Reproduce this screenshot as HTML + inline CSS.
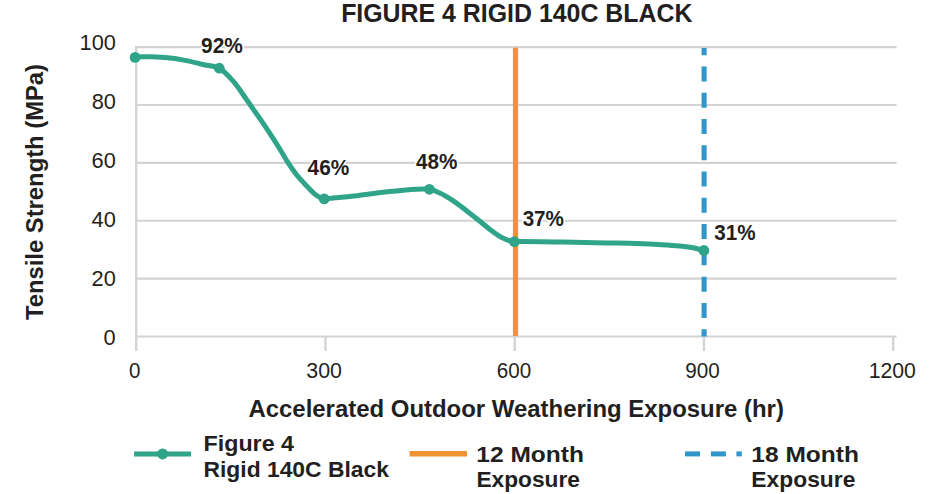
<!DOCTYPE html>
<html><head><meta charset="utf-8"><style>
html,body{margin:0;padding:0;background:#fff;width:940px;height:494px;overflow:hidden}
svg{display:block}
text{font-family:"Liberation Sans",sans-serif;fill:#231f20}
</style></head><body>
<svg width="940" height="494" viewBox="0 0 940 494">
<line x1="135" y1="47.10" x2="896.60" y2="47.10" stroke="#d3d3d3" stroke-width="2.2"/>
<line x1="135" y1="104.98" x2="896.60" y2="104.98" stroke="#d3d3d3" stroke-width="2.2"/>
<line x1="135" y1="162.86" x2="896.60" y2="162.86" stroke="#d3d3d3" stroke-width="2.2"/>
<line x1="135" y1="220.74" x2="896.60" y2="220.74" stroke="#d3d3d3" stroke-width="2.2"/>
<line x1="135" y1="278.62" x2="896.60" y2="278.62" stroke="#d3d3d3" stroke-width="2.2"/>
<line x1="135" y1="336.50" x2="896.60" y2="336.50" stroke="#d3d3d3" stroke-width="2.2"/>
<line x1="136.20" y1="46" x2="136.20" y2="351.00" stroke="#d3d3d3" stroke-width="2.3"/>
<line x1="325.45" y1="336" x2="325.45" y2="351.00" stroke="#d3d3d3" stroke-width="2.3"/>
<line x1="514.70" y1="336" x2="514.70" y2="351.00" stroke="#d3d3d3" stroke-width="2.3"/>
<line x1="703.95" y1="336" x2="703.95" y2="351.00" stroke="#d3d3d3" stroke-width="2.3"/>
<line x1="893.20" y1="336" x2="893.20" y2="351.00" stroke="#d3d3d3" stroke-width="2.3"/>
<line x1="515.5" y1="47.8" x2="515.5" y2="336" stroke="#ef9430" stroke-width="5.2"/>
<line x1="704.1" y1="48" x2="704.1" y2="336.5" stroke="#3197cb" stroke-width="5.1" stroke-dasharray="15 11.27" stroke-dashoffset="7.8"/>
<path d="M135.10,56.90 C140.07,56.85 145.03,56.80 150.00,56.80 C155.00,56.80 160.00,57.16 165.00,57.60 C171.30,58.16 177.60,58.96 183.90,60.10 C190.27,61.25 196.63,63.04 203.00,64.50 C208.43,65.74 213.87,65.73 219.30,68.20 C223.00,69.88 226.70,74.16 230.40,78.10 C232.70,80.55 235.00,83.15 237.30,86.20 C239.17,88.67 241.03,91.61 242.90,94.30 C245.33,97.81 247.77,101.29 250.20,104.80 C256.03,113.21 261.87,121.37 267.70,130.20 C271.93,136.61 276.17,143.14 280.40,150.00 C282.93,154.11 285.47,158.68 288.00,162.60 C290.73,166.83 293.47,170.77 296.20,174.30 C299.83,178.99 303.47,182.65 307.10,186.40 C310.07,189.46 313.03,192.89 316.00,195.00 C318.73,196.94 321.47,198.90 324.20,198.90 C327.07,198.90 329.93,198.29 332.80,198.00 C339.17,197.36 345.53,197.00 351.90,196.30 C358.30,195.60 364.70,194.60 371.10,193.80 C377.47,193.00 383.83,192.18 390.20,191.50 C396.60,190.81 403.00,190.12 409.40,189.70 C413.67,189.42 417.93,189.10 422.20,189.10 C424.60,189.10 427.00,189.17 429.40,189.30 C432.67,189.48 435.93,191.26 439.20,192.70 C443.90,194.77 448.60,197.70 453.30,200.80 C458.03,203.92 462.77,207.75 467.50,211.40 C470.80,213.94 474.10,216.56 477.40,219.20 C481.17,222.21 484.93,225.55 488.70,228.40 C493.43,231.98 498.17,235.83 502.90,238.10 C506.73,239.93 510.57,241.70 514.40,241.70 C516.47,241.70 518.53,241.50 520.60,241.50 C527.70,241.50 534.80,241.60 541.90,241.70 C549.00,241.80 556.10,241.98 563.20,242.10 C570.30,242.22 577.40,242.27 584.50,242.40 C591.57,242.53 598.63,242.74 605.70,242.90 C616.10,243.14 626.50,243.24 636.90,243.60 C644.00,243.84 651.10,244.10 658.20,244.50 C665.30,244.90 672.40,245.22 679.50,246.00 C684.80,246.58 690.10,247.01 695.40,248.20 C698.23,248.84 701.07,249.67 703.90,250.50" fill="none" stroke="#30a489" stroke-width="5" stroke-linejoin="round" stroke-linecap="round"/>
<circle cx="135.10" cy="57.40" r="5.4" fill="#30a489"/>
<circle cx="219.30" cy="68.20" r="5.4" fill="#30a489"/>
<circle cx="324.20" cy="198.90" r="5.4" fill="#30a489"/>
<circle cx="429.40" cy="189.30" r="5.4" fill="#30a489"/>
<circle cx="514.40" cy="241.70" r="5.4" fill="#30a489"/>
<circle cx="703.90" cy="250.50" r="5.4" fill="#30a489"/>
<line x1="134.1" y1="454" x2="191.1" y2="454" stroke="#30a489" stroke-width="5"/>
<circle cx="162.6" cy="453.9" r="5.5" fill="#30a489"/>
<line x1="409.6" y1="453.7" x2="467" y2="453.7" stroke="#ef9430" stroke-width="5.4"/>
<line x1="685.00" y1="453.9" x2="700.00" y2="453.9" stroke="#3197cb" stroke-width="5"/>
<line x1="710.90" y1="453.9" x2="725.90" y2="453.9" stroke="#3197cb" stroke-width="5"/>
<line x1="736.40" y1="453.9" x2="741.80" y2="453.9" stroke="#3197cb" stroke-width="5"/>
<text x="341.14" y="21.80" font-size="26.30" font-weight="bold" textLength="351.33" lengthAdjust="spacingAndGlyphs">FIGURE 4 RIGID 140C BLACK</text>
<text x="115.99" y="50.00" font-size="21.80" text-anchor="end">100</text>
<text x="116.00" y="109.30" font-size="21.80" text-anchor="end">80</text>
<text x="115.79" y="168.00" font-size="21.80" text-anchor="end">60</text>
<text x="115.87" y="227.10" font-size="21.80" text-anchor="end">40</text>
<text x="115.84" y="286.00" font-size="21.80" text-anchor="end">20</text>
<text x="115.74" y="345.20" font-size="21.80" text-anchor="end">0</text>
<text x="129.08" y="378.00" font-size="21.80" textLength="11.44" lengthAdjust="spacingAndGlyphs">0</text>
<text x="306.32" y="378.00" font-size="21.80" textLength="35.67" lengthAdjust="spacingAndGlyphs">300</text>
<text x="496.85" y="378.00" font-size="21.80" textLength="34.37" lengthAdjust="spacingAndGlyphs">600</text>
<text x="685.22" y="378.00" font-size="21.80" textLength="34.50" lengthAdjust="spacingAndGlyphs">900</text>
<text x="868.69" y="378.00" font-size="21.80" textLength="47.22" lengthAdjust="spacingAndGlyphs">1200</text>
<text x="42.80" y="320.00" font-size="23.50" font-weight="bold" textLength="256.00" lengthAdjust="spacingAndGlyphs" transform="rotate(-90 42.80 320.00)">Tensile Strength (MPa)</text>
<text x="248.46" y="416.60" font-size="23.50" font-weight="bold" textLength="535.42" lengthAdjust="spacingAndGlyphs">Accelerated Outdoor Weathering Exposure (hr)</text>
<text x="201.12" y="52.80" font-size="21.15" font-weight="bold" textLength="41.73" lengthAdjust="spacingAndGlyphs" stroke="#fff" stroke-width="3.0" paint-order="stroke" stroke-linejoin="round">92%</text>
<text x="307.57" y="174.90" font-size="21.15" font-weight="bold" textLength="41.72" lengthAdjust="spacingAndGlyphs" stroke="#fff" stroke-width="3.0" paint-order="stroke" stroke-linejoin="round">46%</text>
<text x="415.89" y="168.70" font-size="21.15" font-weight="bold" textLength="41.44" lengthAdjust="spacingAndGlyphs" stroke="#fff" stroke-width="3.0" paint-order="stroke" stroke-linejoin="round">48%</text>
<text x="522.64" y="226.10" font-size="21.15" font-weight="bold" textLength="41.34" lengthAdjust="spacingAndGlyphs" stroke="#fff" stroke-width="3.0" paint-order="stroke" stroke-linejoin="round">37%</text>
<text x="714.34" y="239.70" font-size="21.15" font-weight="bold" textLength="41.27" lengthAdjust="spacingAndGlyphs" stroke="#fff" stroke-width="3.0" paint-order="stroke" stroke-linejoin="round">31%</text>
<text x="203.53" y="450.50" font-size="22.00" font-weight="bold" textLength="90.47" lengthAdjust="spacingAndGlyphs">Figure 4</text>
<text x="203.48" y="476.70" font-size="22.00" font-weight="bold" textLength="185.42" lengthAdjust="spacingAndGlyphs">Rigid 140C Black</text>
<text x="476.35" y="461.80" font-size="21.50" font-weight="bold" textLength="107.60" lengthAdjust="spacingAndGlyphs">12 Month</text>
<text x="476.40" y="486.70" font-size="21.50" font-weight="bold" textLength="103.61" lengthAdjust="spacingAndGlyphs">Exposure</text>
<text x="751.35" y="461.80" font-size="21.50" font-weight="bold" textLength="107.60" lengthAdjust="spacingAndGlyphs">18 Month</text>
<text x="751.38" y="486.70" font-size="21.50" font-weight="bold" textLength="103.97" lengthAdjust="spacingAndGlyphs">Exposure</text>
</svg>
</body></html>
